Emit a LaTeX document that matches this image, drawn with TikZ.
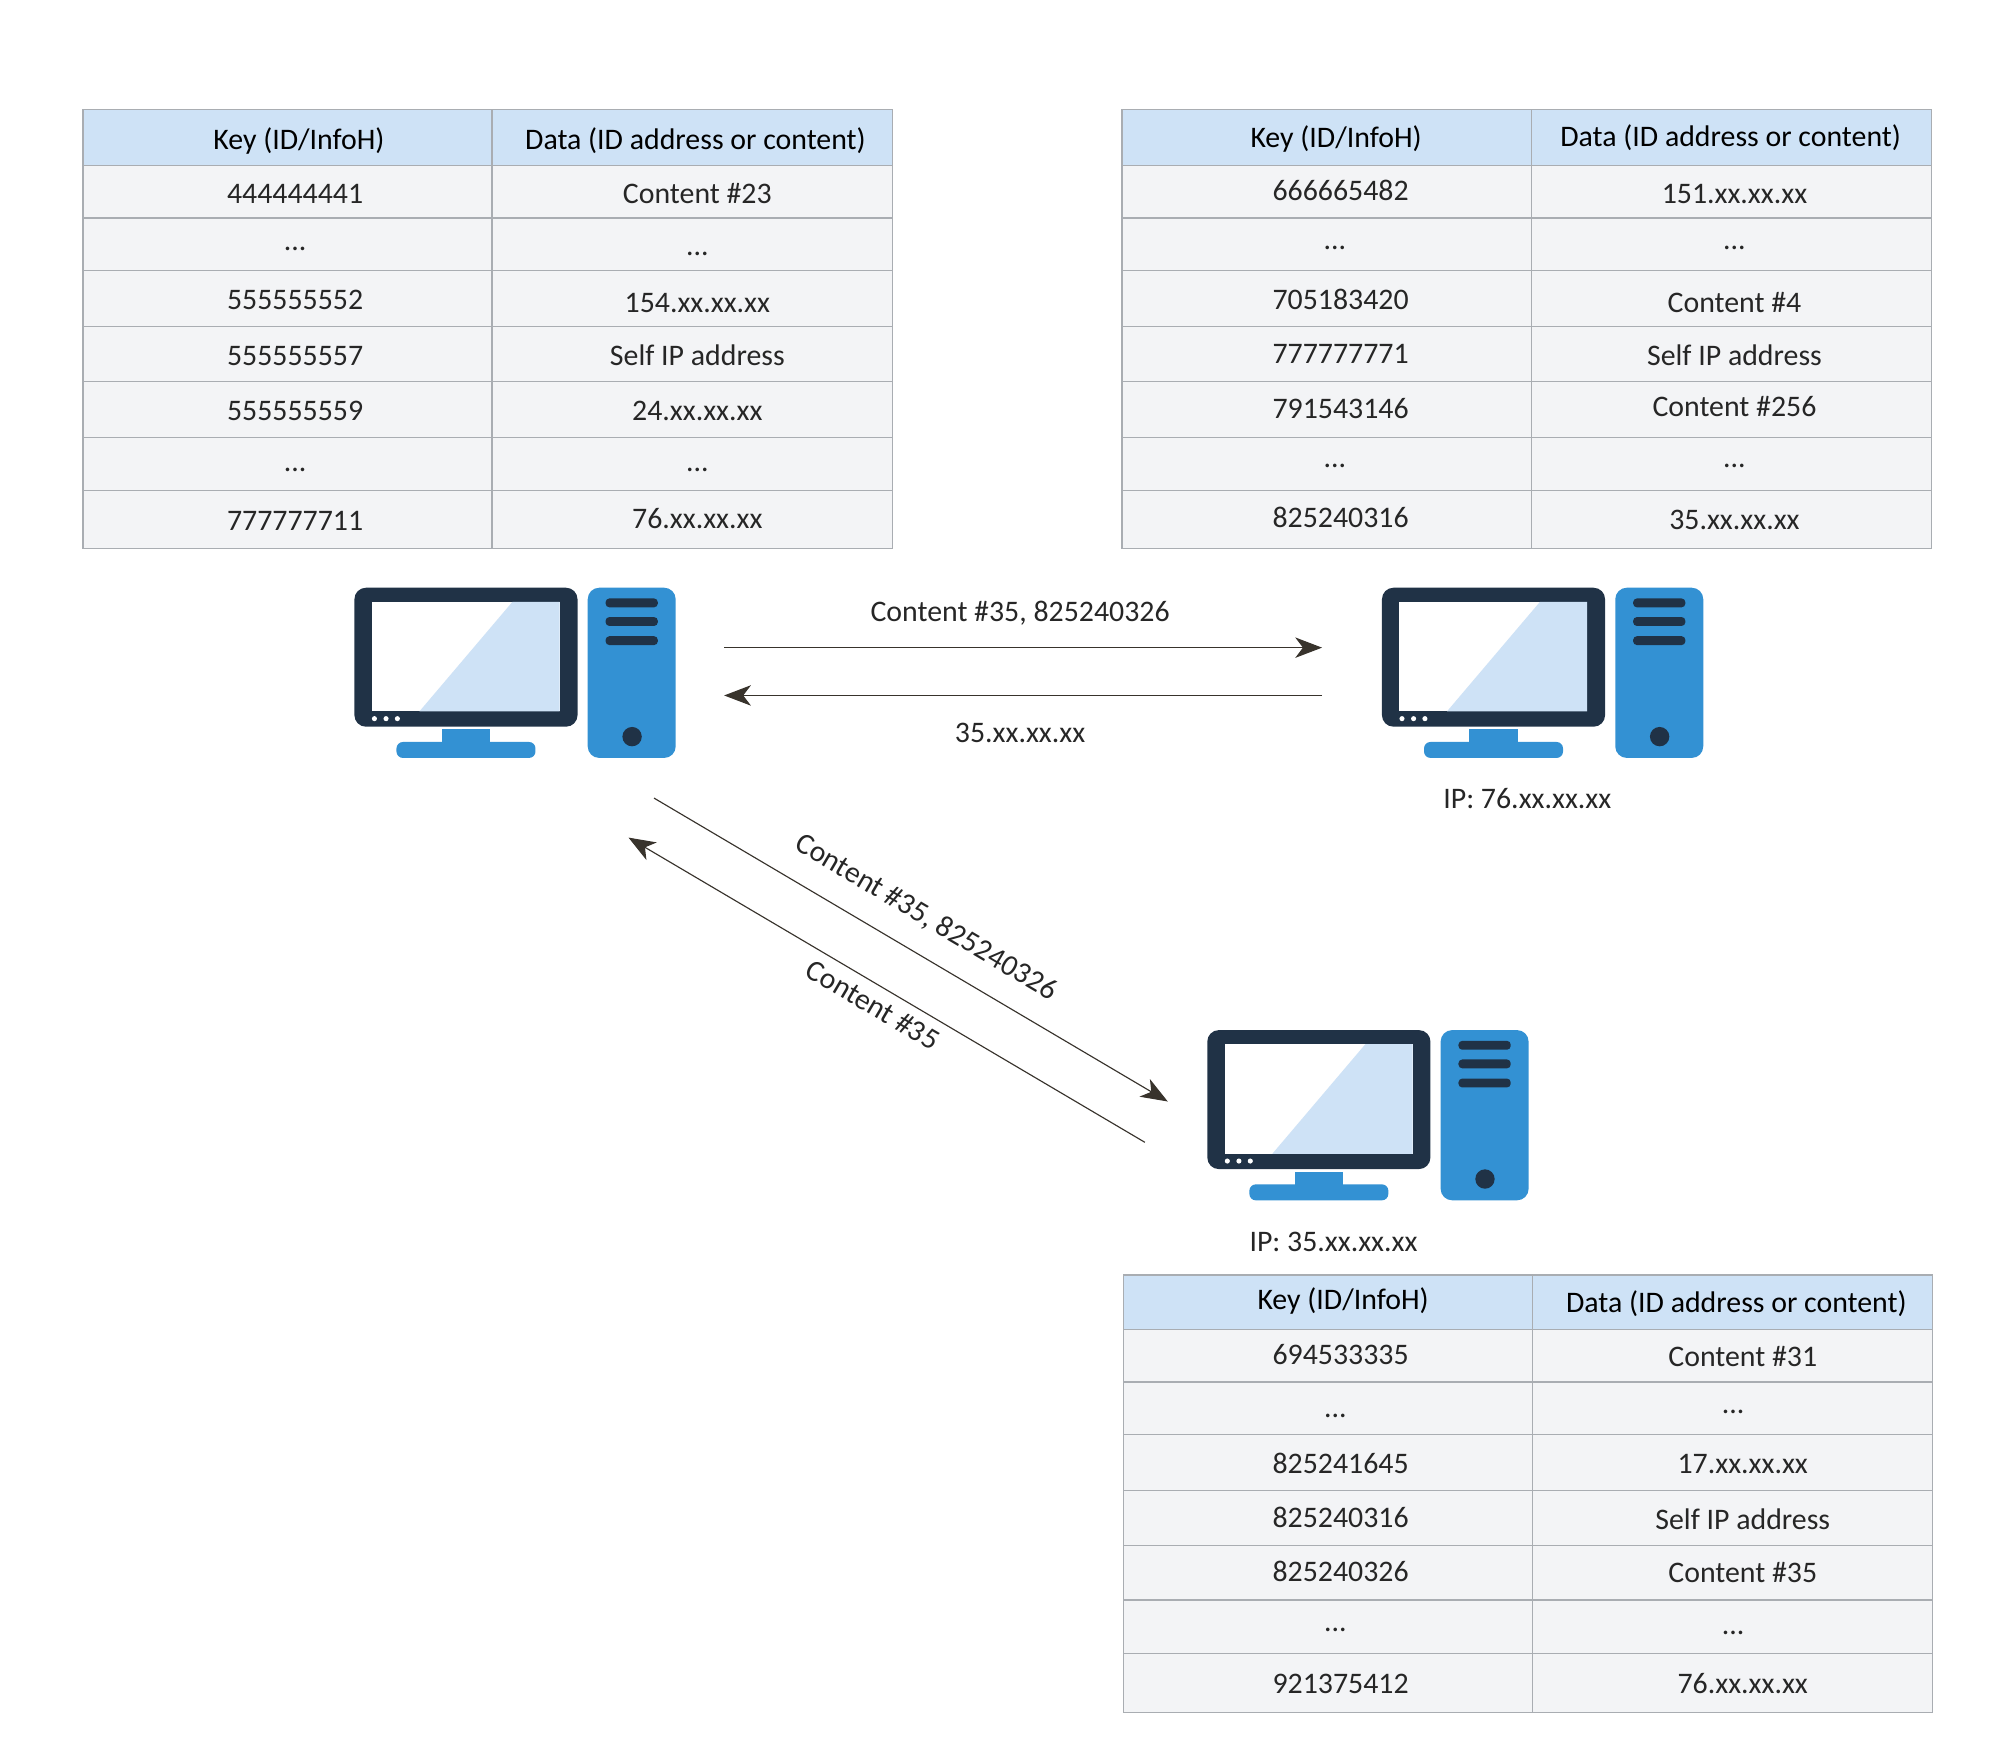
\documentclass[tikz,border=0pt]{standalone}
\usepackage{fontspec}
\setmainfont{Carlito}
\usetikzlibrary{positioning, arrows.meta}

\definecolor{pcdark}{HTML}{203246}
\definecolor{pcblue}{HTML}{3391D3}
\definecolor{pclight}{HTML}{CEE2F6}
\definecolor{cellgray}{HTML}{F3F4F6}
\definecolor{linegray}{HTML}{A9ADB2}
\definecolor{tipdark}{HTML}{38332C}

\tikzset{
    cell/.style={draw=linegray, line width=0.5pt, fill=cellgray, outer sep=0pt, inner sep=0pt,
        text=black!85, text height=9pt, text depth=0pt, font=\fontsize{11.7}{14}\selectfont},
    keycell/.style={cell, minimum width=160.5pt, minimum height=#1, execute at begin node=\hspace*{\keyshift}},
    datacell/.style={cell, minimum width=157pt, minimum height=#1, execute at begin node=\hspace*{\datashift}},
    headkey/.style={keycell=#1, fill=pclight, text=black},
    headdata/.style={datacell=#1, fill=pclight, text=black},
    nudge/.style={execute at begin node=\hspace*{#1}},
    lift/.style={text depth=#1},
    txt/.style={inner sep=0pt, text=black!85, font=\fontsize{11.7}{14}\selectfont},
    msg/.style={draw=tipdark, line width=0.45pt, -{Stealth[length=10.5pt, width=8pt, inset=3pt]}},
    computer/.pic={
        \fill[pcdark, rounded corners=4.5pt] (0,0) rectangle (175,-109);
        \fill[white] (13.5,-11) rectangle (161,-97);
        \fill[pclight] (124,-11) -- (161,-11) -- (161,-97) -- (51,-97) -- cycle;
        \fill[white] (15.7,-102.7) circle (1pt) (24.8,-102.7) circle (1pt) (33.7,-102.7) circle (1pt);
        \fill[pcblue] (68.5,-111) rectangle (106.7,-122);
        \fill[pcblue, rounded corners=2.5pt] (33,-121) rectangle (142,-133.5);
        \fill[pcblue, rounded corners=4.5pt] (183,0) rectangle (252,-133.5);
        \fill[pcdark, rounded corners=1.5pt] (197,-8.4) rectangle (238,-15.4);
        \fill[pcdark, rounded corners=1.5pt] (197,-23) rectangle (238,-30);
        \fill[pcdark, rounded corners=1.5pt] (197,-38) rectangle (238,-45);
        \fill[pcdark] (217.8,-116.8) circle (3.8pt);
    }
}

\begin{document}
\begin{tikzpicture}[x=0.5pt, y=0.5pt]
        \useasboundingbox (0,0) rectangle (1568,-1382);

        %% TABLE OF THE FIRST PEER
        \def\keyshift{6pt}
        \def\datashift{4pt}
        \node[headkey=22pt, nudge=3pt, anchor=north west] (ta0) at (65,-86) {Key (ID/InfoH)};
        \node[headdata=22pt, nudge=-1.5pt, right=0pt of ta0] (da0) {Data (ID address or content)};
        \node[keycell=20.5pt, below=0pt of ta0] (ta1) {444444441};
        \node[datacell=20.5pt, below=0pt of da0] (da1) {Content \#23};
        \node[keycell=20.5pt, lift=4pt, below=0pt of ta1] (ta2) {...};
        \node[datacell=20.5pt, below=0pt of da1] (da2) {...};
        \node[keycell=22pt, below=0pt of ta2] (ta3) {555555552};
        \node[datacell=22pt, text height=11pt, below=0pt of da2] (da3) {154.xx.xx.xx};
        \node[keycell=21.5pt, below=0pt of ta3] (ta4) {555555557};
        \node[datacell=21.5pt, below=0pt of da3] (da4) {Self IP address};
        \node[keycell=22pt, below=0pt of ta4] (ta5) {555555559};
        \node[datacell=22pt, below=0pt of da4] (da5) {24.xx.xx.xx};
        \node[keycell=21pt, lift=3pt, below=0pt of ta5] (ta6) {...};
        \node[datacell=21pt, lift=3pt, below=0pt of da5] (da6) {...};
        \node[keycell=22.5pt, below=0pt of ta6] (ta7) {777777711};
        \node[datacell=22.5pt, lift=2pt, below=0pt of da6] (da7) {76.xx.xx.xx};

        %% TABLE OF THE SECOND PEER
        \def\keyshift{11pt}
        \def\datashift{2.5pt}
        \node[headkey=22pt, nudge=-3.5pt, lift=1pt, anchor=north west] (tb0) at (880,-86) {Key (ID/InfoH)};
        \node[headdata=22pt, nudge=-3pt, lift=2pt, right=0pt of tb0] (db0) {Data (ID address or content)};
        \node[keycell=20.5pt, lift=2pt, below=0pt of tb0] (tb1) {666665482};
        \node[datacell=20.5pt, below=0pt of db0] (db1) {151.xx.xx.xx};
        \node[keycell=20.5pt, nudge=-4.5pt, lift=5pt, below=0pt of tb1] (tb2) {...};
        \node[datacell=20.5pt, lift=5pt, below=0pt of db1] (db2) {...};
        \node[keycell=22pt, below=0pt of tb2] (tb3) {705183420};
        \node[datacell=22pt, text height=11pt, below=0pt of db2] (db3) {Content \#4};
        \node[keycell=21.5pt, lift=1pt, below=0pt of tb3] (tb4) {777777771};
        \node[datacell=21.5pt, below=0pt of db3] (db4) {Self IP address};
        \node[keycell=22pt, lift=2pt, below=0pt of tb4] (tb5) {791543146};
        \node[datacell=22pt, lift=3pt, below=0pt of db4] (db5) {Content \#256};
        \node[keycell=21pt, nudge=-4.5pt, lift=6pt, below=0pt of tb5] (tb6) {...};
        \node[datacell=21pt, lift=6pt, below=0pt of db5] (db6) {...};
        \node[keycell=22.5pt, lift=3pt, below=0pt of tb6] (tb7) {825240316};
        \node[datacell=22.5pt, lift=1pt, below=0pt of db6] (db7) {35.xx.xx.xx};

        %% TABLE OF THE THIRD PEER
        \def\keyshift{10pt}
        \def\datashift{8pt}
        \node[headkey=21.5pt, nudge=2pt, lift=3pt, anchor=north west] (tc0) at (881,-1000) {Key (ID/InfoH)};
        \node[headdata=21.5pt, nudge=-5pt, lift=1pt, right=0pt of tc0] (dc0) {Data (ID address or content)};
        \node[keycell=20.5pt, lift=2pt, below=0pt of tc0] (tc1) {694533335};
        \node[datacell=20.5pt, lift=1pt, below=0pt of dc0] (dc1) {Content \#31};
        \node[keycell=20.5pt, nudge=-4pt, lift=2pt, below=0pt of tc1] (tc2) {...};
        \node[datacell=20.5pt, nudge=-7.5pt, lift=5pt, below=0pt of dc1] (dc2) {...};
        \node[keycell=22pt, below=0pt of tc2] (tc3) {825241645};
        \node[datacell=22pt, below=0pt of dc2] (dc3) {17.xx.xx.xx};
        \node[keycell=21.5pt, lift=1pt, below=0pt of tc3] (tc4) {825240316};
        \node[datacell=21.5pt, below=0pt of dc3] (dc4) {Self IP address};
        \node[keycell=21.5pt, lift=2pt, below=0pt of tc4] (tc5) {825240326};
        \node[datacell=21.5pt, lift=1pt, below=0pt of dc4] (dc5) {Content \#35};
        \node[keycell=21pt, nudge=-4pt, lift=5pt, below=0pt of tc5] (tc6) {...};
        \node[datacell=21pt, nudge=-7.5pt, lift=3pt, below=0pt of dc5] (dc6) {...};
        \node[keycell=23pt, lift=1pt, below=0pt of tc6] (tc7) {921375412};
        \node[datacell=23pt, lift=1pt, below=0pt of dc6] (dc7) {76.xx.xx.xx};

        %% COMPUTERS
        \pic at (278,-461) {computer};
        \pic at (1084,-461) {computer};
        \pic at (947,-808) {computer};
        \node[txt] (ipb) at (1198,-626) {IP: 76.xx.xx.xx};
        \node[txt] (ipc) at (1046,-974) {IP: 35.xx.xx.xx};

        %% FREE ENDS OF THE MESSAGES
        \coordinate (ab1) at (568,-508);
        \coordinate (ab2) at (1037,-508);
        \coordinate (ba1) at (1037,-545.5);
        \coordinate (ba2) at (568,-545.5);
        \coordinate (ac1) at (513,-626);
        \coordinate (ac2) at (916,-864);
        \coordinate (ca1) at (898,-896);
        \coordinate (ca2) at (493,-657);

        %% MESSAGES
        \path[every node/.style={txt}]
            (ab1) edge[msg] node[above=8.5pt, pos=0.495] (mab) {Content \#35, 825240326} (ab2)
            (ba1) edge[msg] node[below=10.5pt, pos=0.505] (mba) {35.xx.xx.xx} (ba2)
            (ac1) edge[msg] node[sloped, above=9pt, pos=0.495] (mac) {Content \#35, 825240326} (ac2)
            (ca1) edge[msg] node[sloped, below=3.5pt, pos=0.507] (mca) {Content \#35} (ca2);

    \end{tikzpicture}
\end{document}
